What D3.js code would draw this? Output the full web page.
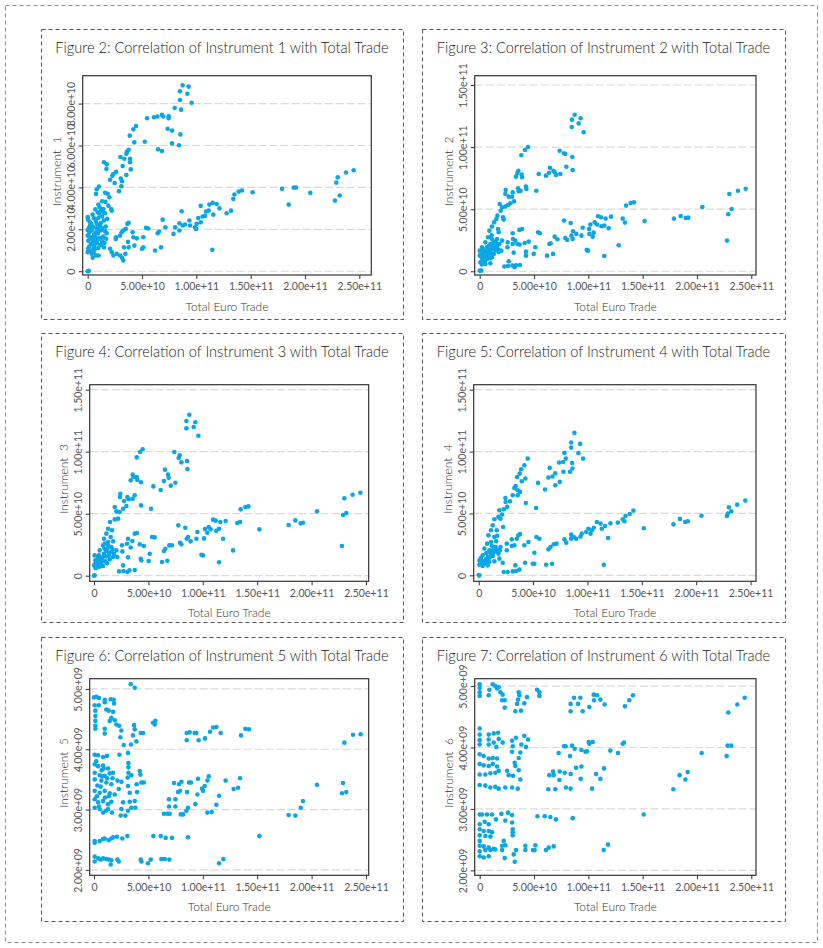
<!DOCTYPE html>
<html>
<head>
<meta charset="utf-8">
<script src="https://cdn.jsdelivr.net/npm/d3@7"></script>
<style>
  body { margin: 0; background: #fff; }
  text { font-family: Lato, "Open Sans", sans-serif; font-weight: 300; }
  .tick text { font-weight: 400; }
</style>
</head>
<body>
<svg id="chart" width="823" height="948"></svg>
<script>
// tick values shared by the panels
const xTicks = [0, 5e10, 1e11, 1.5e11, 2e11, 2.5e11];
const yTicksInst1 = [0, 2e10, 4e10, 6e10, 8e10];
const yTicksLarge = [0, 5e10, 1e11, 1.5e11];
const yTicksSmall = [2e9, 3e9, 4e9, 5e9];

const figureNumbers = [2, 3, 4, 5, 6, 7];
const instrumentNames = ["Instrument  1", "Instrument  2", "Instrument  3", "Instrument  4", "Instrument  5", "Instrument  6"];
const xTitle = "Total Euro Trade";

// points: [total euro trade (1e10), instrument value (1e10)]
const inst1 = [
  [8.74,8.87],[9.29,8.81],[8.49,8.59],[9.17,8.47],[8.49,8.17],[9.57,8.04],[8.01,7.79],[8.59,7.71],
  [5.46,7.30],[6.10,7.35],[6.41,7.38],[6.83,7.46],[6.96,7.38],[7.45,7.39],[7.45,7.30],[4.45,6.93],
  [4.20,6.77],[3.87,6.47],[4.29,6.15],[5.25,6.18],[7.36,6.80],[7.76,6.71],[8.53,6.53],[7.76,6.10],
  [8.40,6.01],[6.47,5.82],[6.84,5.74],[3.77,5.80],[3.62,5.71],[3.56,5.60],[3.01,5.45],[3.37,5.37],
  [3.90,5.36],[3.90,5.20],[3.22,5.02],[3.96,4.86],[3.56,4.59],[1.50,5.20],[1.75,5.10],[1.72,4.88],
  [2.61,4.74],[2.36,4.64],[2.27,4.56],[2.06,4.36],[3.04,4.42],[3.16,4.29],[2.48,4.21],[3.10,4.05],
  [2.88,3.82],[1.04,4.04],[0.83,3.91],[0.77,3.69],[1.60,3.74],[1.84,3.70],[2.00,3.53],[1.32,3.34],
  [1.63,3.31],[0.98,3.18],[1.90,3.13],[2.15,2.97],[2.21,2.89],[1.23,2.89],[1.44,2.97],[0.92,2.81],
  [1.60,2.77],[0.00,2.58],[0.03,2.46],[0.58,2.53],[0.98,2.54],[1.32,2.61],[1.50,2.42],[0.83,2.26],
  [1.13,2.18],[1.66,2.13],[0.21,2.18],[0.52,2.10],[0.00,1.97],[0.37,1.94],[0.77,1.86],[1.20,1.94],
  [1.60,1.91],[0.00,1.70],[0.31,1.62],[0.67,1.65],[1.04,1.57],[1.44,1.65],[1.75,1.81],[0.06,1.46],
  [0.46,1.38],[0.83,1.34],[1.23,1.27],[1.50,1.14],[0.15,1.18],[0.52,1.07],[0.98,1.11],[0.00,0.91],
  [0.37,0.83],[0.77,0.75],[0.46,0.64],[1.01,0.75],[2.06,1.07],[2.21,0.91],[2.36,0.75],[2.67,0.83],
  [0.20,2.35],[0.45,2.70],[0.70,2.95],[1.10,3.05],[0.60,1.75],[0.90,1.50],[1.30,1.45],[0.30,1.30],
  [0.60,1.20],[1.20,2.30],[1.80,2.50],[0.10,2.05],[0.40,1.55],[1.00,2.00],[0.25,0.95],[0.55,0.90],
  [0.15,1.85],[0.35,2.25],[0.55,1.45],[0.75,2.40],[0.95,1.80],[1.15,1.25],[1.35,2.05],[1.55,1.35],
  [0.05,1.10],[0.25,1.55],[0.65,1.05],[0.85,2.05],[1.05,2.75],[1.25,1.60],[1.45,2.80],[1.70,1.55],
  [2.61,1.62],[2.58,1.54],[2.98,1.70],[3.13,1.86],[3.28,1.94],[3.50,2.02],[3.65,2.26],[3.77,2.31],
  [2.98,0.75],[3.16,0.64],[3.28,0.51],[3.47,0.83],[3.34,1.14],[3.71,1.40],[3.77,1.14],[4.14,1.86],
  [4.20,1.62],[4.29,1.22],[4.51,1.57],[5.00,1.07],[5.12,1.14],[5.12,1.62],[5.37,2.07],[5.58,2.04],
  [6.20,0.99],[6.75,1.14],[6.44,1.81],[6.56,1.89],[6.90,2.46],[7.15,2.10],[7.90,1.78],[8.05,2.10],
  [8.44,1.94],[8.44,2.29],[8.65,2.86],[8.74,2.18],[8.96,2.23],[9.36,2.42],[9.42,2.18],[9.88,2.10],
  [9.97,2.02],[10.03,2.26],[10.18,2.54],[10.40,2.34],[10.40,3.12],[10.58,2.61],[10.80,2.64],[10.89,2.85],
  [11.13,2.89],[11.20,3.18],[11.50,3.26],[11.56,2.70],[11.87,3.21],[12.12,3.00],[11.47,1.02],[12.79,2.77],
  [13.19,2.89],[13.40,3.45],[13.50,3.66],[13.89,3.80],[14.20,3.85],[15.18,3.77],[17.88,3.93],[18.50,3.18],
  [18.96,3.99],[19.17,3.99],[20.49,3.74],[22.76,3.37],[23.19,3.61],[22.88,4.23],[23.01,4.48],[23.77,4.71],
  [24.48,4.82],[0.00,0.00],[0.06,0.00],[0.10,0.02]
];

const inst2 = [
  [8.74,12.61],[8.49,12.21],[9.29,12.32],[8.47,11.62],[9.11,11.91],[9.57,11.19],[4.45,10.01],[4.17,9.77],
  [3.83,9.34],[7.36,9.71],[7.76,9.50],[7.88,9.44],[8.53,9.20],[7.98,8.42],[8.56,8.16],[6.47,8.34],
  [6.38,7.94],[6.78,8.10],[6.90,7.97],[6.10,7.70],[5.43,7.83],[7.42,7.83],[7.02,7.75],[5.21,6.49],
  [3.56,8.10],[3.47,7.92],[3.34,7.62],[3.87,7.78],[3.90,7.57],[4.26,6.82],[4.29,6.63],[3.53,6.68],
  [3.59,6.44],[3.77,6.49],[3.04,6.36],[2.98,6.01],[3.16,5.63],[2.39,6.55],[2.36,6.22],[2.67,6.01],
  [1.84,5.42],[2.06,5.15],[2.36,5.21],[2.61,5.34],[2.82,5.47],[1.93,4.88],[1.63,4.48],[1.53,4.21],
  [2.15,4.35],[2.21,4.16],[1.32,3.94],[1.13,3.60],[0.89,3.27],[1.69,3.41],[1.75,3.14],[0.77,2.74],
  [1.13,2.60],[1.60,2.60],[2.06,2.47],[0.52,2.33],[0.98,2.20],[1.44,2.15],[0.21,1.93],[0.67,1.93],
  [1.13,1.80],[1.60,1.99],[1.99,1.66],[0.00,1.66],[0.37,1.53],[0.83,1.40],[1.29,1.40],[1.75,1.53],
  [0.00,1.26],[0.21,1.07],[0.67,0.99],[1.13,1.13],[0.06,0.72],[0.52,0.59],[0.98,0.64],[0.00,0.05],
  [0.15,0.05],[0.40,1.20],[0.90,1.70],[1.40,2.40],[0.30,0.90],[1.10,2.90],[0.60,1.60],[1.80,2.20],
  [0.10,1.40],[0.30,1.75],[0.50,0.85],[0.70,1.25],[0.85,2.05],[1.05,1.45],[1.25,1.95],[1.45,1.70],
  [0.20,0.55],[0.45,1.05],[0.75,1.55],[1.00,1.05],[1.20,2.25],[1.55,2.25],[1.70,1.75],[0.35,1.30],
  [2.27,0.38],[2.61,0.43],[2.67,0.80],[3.01,0.46],[3.22,0.32],[3.34,0.48],[3.71,0.51],[2.55,1.93],
  [2.58,2.33],[3.04,2.20],[3.07,2.60],[3.04,3.06],[3.28,2.47],[3.47,2.20],[3.65,3.33],[3.90,3.41],
  [3.13,1.50],[3.68,2.15],[4.14,2.28],[4.51,2.39],[4.26,1.58],[4.26,1.26],[4.97,1.40],[5.12,1.93],
  [5.37,3.14],[5.55,3.06],[6.20,1.26],[6.75,1.40],[6.41,2.20],[6.53,2.25],[6.90,2.79],[7.15,2.58],
  [7.76,4.08],[7.88,2.68],[8.05,2.52],[8.37,3.89],[8.44,2.87],[8.56,2.60],[8.59,3.22],[8.90,3.01],
  [9.36,2.87],[9.48,3.51],[9.85,1.72],[9.97,1.66],[10.06,3.41],[10.18,3.76],[10.09,3.01],[10.40,2.79],
  [10.49,3.11],[10.58,3.94],[10.80,3.76],[10.89,4.43],[11.17,4.35],[11.20,3.62],[11.47,3.68],[11.59,4.24],
  [11.47,1.23],[11.87,3.46],[12.09,4.40],[12.79,2.09],[13.16,4.24],[13.37,3.92],[13.47,5.29],[13.89,5.50],
  [14.20,5.55],[15.18,4.05],[17.88,4.24],[18.50,4.45],[18.96,4.29],[19.20,4.32],[20.49,5.18],[22.76,2.47],
  [22.88,4.59],[23.19,5.02],[22.98,6.22],[23.77,6.49],[24.48,6.65]
];

const inst3 = [
  [8.76,12.98],[8.49,12.47],[9.31,12.37],[8.49,11.88],[9.16,11.99],[9.59,11.29],[4.47,10.19],[4.23,9.97],
  [3.92,9.54],[7.38,9.97],[7.87,9.70],[7.78,9.49],[8.55,9.25],[8.03,9.14],[8.58,8.60],[6.52,8.55],
  [6.80,8.15],[6.86,7.90],[6.43,7.63],[7.48,7.50],[7.05,7.26],[5.45,7.20],[6.13,6.91],[3.55,8.15],
  [3.62,7.96],[3.37,7.69],[3.92,7.96],[3.98,7.72],[4.32,7.53],[3.74,6.48],[3.55,6.21],[3.06,6.34],
  [3.19,6.16],[2.42,6.61],[2.39,6.34],[2.76,6.02],[4.32,5.67],[5.24,5.40],[1.90,5.54],[2.05,5.19],
  [2.36,5.13],[2.67,5.40],[2.97,5.62],[2.21,4.60],[1.90,4.54],[1.47,4.33],[1.29,3.79],[1.65,3.66],
  [1.13,3.39],[1.53,3.12],[0.92,2.98],[1.29,2.72],[1.75,2.77],[0.83,2.45],[1.23,2.18],[1.59,2.31],
  [2.05,2.04],[0.52,2.04],[0.92,1.77],[1.35,1.64],[1.75,1.51],[2.14,1.51],[0.06,1.64],[0.37,1.51],
  [0.12,1.24],[0.61,1.10],[1.04,1.16],[1.44,1.32],[0.00,0.83],[0.37,0.70],[0.83,0.78],[0.06,0.03],
  [0.00,0.00],[0.40,0.95],[0.70,1.40],[1.10,2.00],[0.20,1.00],[1.00,2.60],[1.60,1.90],[0.50,1.30],
  [0.15,0.60],[0.30,1.25],[0.55,0.75],[0.80,1.20],[0.95,2.20],[1.15,1.55],[1.40,1.85],[1.70,2.10],
  [0.10,0.95],[0.45,1.65],[0.65,0.95],[0.85,1.55],[1.20,1.00],[1.30,2.45],[1.85,1.75],[0.25,0.80],
  [2.30,0.35],[2.70,0.38],[2.67,0.83],[3.06,0.30],[3.25,0.43],[3.74,0.46],[2.57,2.45],[2.60,1.96],
  [3.12,2.98],[3.03,2.58],[3.37,2.28],[3.12,1.48],[3.52,2.80],[3.74,3.39],[3.95,3.44],[4.20,2.53],
  [4.57,2.39],[4.29,1.37],[4.35,1.24],[5.12,1.77],[5.02,1.18],[5.33,3.12],[5.57,3.09],[6.25,1.10],
  [6.74,1.21],[6.43,1.99],[6.56,2.18],[6.92,2.45],[7.17,2.45],[7.75,4.06],[7.90,2.66],[8.03,2.53],
  [8.39,3.87],[8.52,2.98],[8.64,3.12],[8.88,2.77],[9.41,2.98],[9.50,3.52],[9.87,1.69],[10.02,1.64],
  [10.11,3.01],[10.20,3.76],[10.42,3.47],[10.54,3.92],[10.72,3.74],[10.94,4.52],[11.18,4.44],[11.24,3.63],
  [11.49,3.79],[11.61,4.33],[11.86,2.98],[12.10,4.41],[11.49,1.08],[12.78,2.04],[13.17,4.25],[13.42,4.33],
  [13.48,5.35],[13.91,5.54],[14.19,5.59],[15.20,3.74],[17.89,4.09],[18.51,4.46],[19.00,4.22],[19.21,4.27],
  [20.50,5.19],[22.79,2.39],[22.89,4.89],[23.19,5.05],[23.01,6.24],[23.77,6.53],[24.48,6.69]
];

const inst4 = [
  [8.80,11.51],[8.50,10.73],[9.33,10.62],[8.50,10.32],[7.88,9.89],[9.17,9.87],[8.01,9.43],[9.60,9.43],
  [7.39,9.11],[7.76,9.16],[8.59,9.08],[6.53,8.68],[8.62,8.63],[8.40,8.36],[7.79,8.36],[7.04,8.25],
  [6.78,7.98],[6.41,7.90],[7.45,7.55],[7.05,7.28],[6.10,6.93],[5.46,7.47],[5.28,5.44],[4.33,5.85],
  [4.51,9.43],[4.20,8.89],[3.90,8.57],[3.77,8.22],[3.53,7.95],[3.96,7.60],[4.29,7.82],[3.28,7.06],
  [3.59,6.87],[3.80,6.74],[3.40,7.22],[3.59,6.47],[3.13,6.47],[2.88,5.98],[2.45,6.25],[2.48,5.93],
  [2.61,5.53],[2.30,5.34],[1.90,5.26],[2.15,4.91],[1.81,4.72],[1.44,4.53],[2.00,4.58],[2.25,3.91],
  [1.29,4.04],[1.13,3.64],[1.66,3.64],[0.89,3.23],[1.44,3.10],[0.77,2.56],[1.13,2.70],[1.60,2.75],
  [2.00,2.29],[0.52,2.16],[0.98,2.02],[1.44,2.16],[1.81,1.75],[0.37,1.62],[0.83,1.48],[1.29,1.56],
  [1.90,1.35],[0.06,1.21],[0.52,1.13],[0.98,1.08],[1.44,1.13],[0.06,0.86],[0.37,0.75],[0.83,0.81],
  [0.06,0.00],[0.00,0.02],[2.21,1.02],[0.30,1.00],[0.65,1.30],[1.05,1.85],[1.20,2.40],[0.20,1.40],
  [1.60,1.95],[0.70,1.80],[0.15,0.95],[0.45,0.90],[0.60,1.05],[0.90,1.25],[1.10,1.55],[1.35,1.80],
  [1.55,2.30],[1.75,2.05],[0.25,1.15],[0.75,1.20],[1.00,1.45],[1.25,2.00],[1.70,3.20],[1.95,2.00],
  [2.30,0.27],[2.67,0.27],[3.13,0.32],[3.44,0.35],[3.74,0.46],[3.37,0.81],
  [2.58,2.56],[2.58,2.02],[3.04,2.91],[3.04,2.37],[3.28,2.43],[3.50,2.96],[3.65,3.23],[3.80,3.34],
  [4.20,2.43],[4.57,2.70],[4.26,1.02],[4.97,0.94],[5.12,0.94],[5.12,1.83],[5.31,3.10],[5.58,2.96],
  [6.20,0.86],[6.75,0.94],[6.41,2.10],[6.60,2.29],[6.90,2.51],[7.15,2.56],[7.88,2.91],[8.05,2.64],
  [8.50,3.29],[8.50,2.96],[8.74,3.10],[8.96,2.96],[9.36,3.13],[9.48,3.37],[9.88,3.50],[10.09,3.77],
  [10.28,3.37],[10.40,3.64],[10.58,3.85],[10.86,4.31],[11.20,4.18],[11.32,3.77],[11.62,3.99],[11.50,0.86],
  [11.90,3.02],[12.12,4.20],[12.79,4.26],[13.25,4.53],[13.40,4.37],[13.50,4.80],[13.89,4.96],[14.23,5.23],
  [15.18,3.80],[17.91,4.12],[18.50,4.56],[18.99,4.31],[19.23,4.37],[20.49,4.82],[22.82,4.80],[22.91,4.99],
  [23.01,5.50],[23.22,5.18],[23.77,5.71],[24.51,6.04]
];

// points: [total euro trade (1e10), instrument value (1e9)]
const inst5 = [
  [3.37,5.08],[3.74,5.02],[0.00,4.86],[0.21,4.87],[0.46,4.85],[0.98,4.82],[1.53,4.83],[1.81,4.82],
  [0.06,4.73],[0.43,4.73],[0.98,4.78],[1.84,4.76],[1.13,4.66],[1.35,4.64],[1.75,4.62],[0.12,4.64],
  [0.12,4.55],[0.12,4.47],[0.12,4.39],[0.12,4.34],[1.59,4.52],[1.44,4.47],[1.90,4.48],[2.05,4.41],
  [2.30,4.39],[0.98,4.34],[0.98,4.26],[2.51,4.31],[2.42,4.20],[2.73,4.07],[3.68,4.40],[3.74,4.33],
  [4.29,4.27],[4.51,4.27],[3.58,4.23],[3.40,4.08],[3.89,4.13],[5.42,4.44],[5.64,4.47],[5.58,4.41],
  [8.52,4.27],[8.79,4.28],[9.25,4.27],[9.41,4.27],[8.52,4.15],[9.62,4.15],[10.20,4.18],[10.66,4.29],
  [10.94,4.36],[11.25,4.37],[11.64,4.27],[13.51,4.23],[13.91,4.34],[14.24,4.33],[23.01,4.11],[23.81,4.24],
  [24.51,4.25],
  [0.06,3.91],[0.37,3.90],[0.83,3.87],[1.19,3.89],[2.33,3.91],[3.12,3.94],[0.06,3.75],[0.37,3.72],
  [0.83,3.73],[1.29,3.68],[1.75,3.61],[0.06,3.61],[0.52,3.57],[0.98,3.56],[1.44,3.60],[0.06,3.50],
  [0.67,3.48],[1.13,3.45],[1.59,3.42],[2.15,3.48],[2.51,3.46],[3.16,3.77],[3.16,3.70],[3.16,3.61],
  [3.09,3.53],[3.43,3.57],[4.20,3.64],[4.26,3.58],[3.92,3.42],[4.35,3.45],[4.57,3.45],[0.06,3.31],
  [0.52,3.28],[0.98,3.31],[1.44,3.27],[2.27,3.34],[3.12,3.39],[3.28,3.28],[3.95,3.29],[0.06,3.17],
  [0.37,3.12],[0.83,3.14],[1.29,3.09],[1.59,3.13],[2.67,3.12],[3.28,3.13],[3.74,3.14],[0.06,3.03],
  [0.52,3.01],[0.83,2.95],[1.29,3.01],[1.65,2.95],[2.51,3.01],[2.45,2.90],[2.88,2.90],[3.12,2.98],
  [3.43,3.03],[3.80,3.03],[0.30,3.40],[0.70,3.65],[1.00,3.20],[1.90,3.25],[0.45,3.05],[1.20,3.52],
  [0.20,3.80],[0.60,3.38],[0.90,3.68],[1.35,3.22],[1.70,3.52],[0.25,3.22],[1.10,2.98],[0.75,3.55],
  [6.43,2.93],[6.74,2.93],[6.95,2.93],[6.89,3.17],[6.89,3.05],[7.48,3.17],[7.48,3.05],[7.35,3.44],
  [7.81,3.42],[7.72,3.29],[8.03,3.46],[7.90,3.31],[7.97,2.92],[8.19,2.92],[8.49,2.98],[8.64,3.03],
  [8.55,3.29],[8.73,3.45],[8.91,3.45],[9.31,3.09],[9.50,3.25],[9.56,3.51],[9.93,3.35],[10.02,3.31],
  [10.17,3.39],[10.42,3.48],[10.54,3.55],[10.42,2.95],[10.82,2.96],[11.24,3.08],[11.49,3.23],[12.10,3.48],
  [12.83,3.34],[13.24,3.36],[13.42,3.52],[17.89,2.91],[18.51,2.90],[19.00,3.03],[19.21,3.14],[20.50,3.41],
  [22.79,3.27],[22.89,3.44],[23.19,3.29],
  [0.06,2.48],[0.06,2.45],[0.52,2.48],[0.83,2.51],[0.98,2.52],[1.35,2.49],[1.59,2.52],[1.75,2.54],
  [2.11,2.55],[2.60,2.52],[3.06,2.56],[5.45,2.56],[6.13,2.56],[6.58,2.53],[7.17,2.53],[8.64,2.54],
  [15.20,2.56],[0.06,2.22],[0.06,2.14],[0.37,2.19],[0.61,2.17],[0.83,2.19],[1.13,2.18],[1.35,2.17],
  [1.53,2.09],[1.59,2.16],[2.14,2.17],[2.27,2.14],[4.29,2.17],[4.35,2.14],[4.96,2.11],[5.21,2.17],
  [6.19,2.18],[6.50,2.18],[6.92,2.17],[11.49,2.11],[11.89,2.18]
];

const inst6 = [
  [0.00,5.03],[0.00,4.97],[0.00,4.90],[0.00,4.84],[0.89,4.94],[0.83,4.85],[1.20,5.03],[1.44,5.00],
  [1.60,4.96],[1.75,4.98],[1.90,4.90],[2.11,4.86],[2.06,4.77],[2.30,4.77],[2.30,4.65],[3.59,4.90],
  [3.65,4.85],[3.53,4.78],[3.44,4.71],[4.11,4.72],[4.35,4.82],[3.28,4.59],[3.80,4.60],[5.28,4.94],
  [5.49,4.90],[5.49,4.84],[8.37,4.71],[8.37,4.59],[8.68,4.81],[9.05,4.71],[9.26,4.81],[9.48,4.59],
  [10.09,4.66],[10.49,4.86],[10.80,4.85],[10.52,4.77],[11.10,4.78],[11.50,4.70],[13.37,4.67],[13.77,4.77],
  [14.11,4.85],[22.88,4.57],[23.71,4.70],[24.39,4.81],
  [0.00,4.31],[0.00,4.21],[0.00,4.12],[0.00,4.05],[0.83,4.21],[0.83,4.13],[0.83,4.05],[1.29,4.23],
  [1.29,4.08],[1.69,4.24],[1.75,4.14],[1.53,4.01],[2.11,4.08],[2.98,4.11],[3.04,4.02],[2.98,3.93],
  [3.34,4.16],[3.83,4.05],[4.11,4.19],[4.26,4.01],[4.45,4.13],[3.74,3.92],[3.59,3.83],[3.22,3.75],
  [0.00,3.89],[0.37,3.86],[0.83,3.82],[1.20,3.83],[1.60,3.82],[0.00,3.73],[0.37,3.71],[0.83,3.70],
  [1.20,3.73],[1.60,3.69],[0.00,3.56],[0.52,3.56],[0.98,3.58],[1.44,3.59],[1.75,3.62],[2.52,3.62],
  [2.67,3.55],[3.07,3.54],[3.59,3.63],[3.74,3.48],[3.28,3.70],[0.00,3.39],[0.52,3.38],[0.98,3.35],
  [1.44,3.36],[1.75,3.33],[2.36,3.35],[2.98,3.35],[3.50,3.33],[6.32,3.32],[6.96,3.32],[6.41,3.55],
  [6.75,3.61],[6.81,3.55],[7.36,3.61],[7.33,3.47],[7.82,3.59],[7.94,3.35],[8.37,3.33],[8.37,3.57],
  [8.87,3.67],[9.36,3.69],[9.30,3.49],[7.27,3.91],[7.76,4.02],[7.91,4.02],[8.31,3.86],[8.50,4.03],
  [8.74,3.98],[9.36,3.96],[9.73,3.93],[9.88,3.94],[10.03,4.09],[10.09,4.06],[10.40,4.09],[10.34,3.33],
  [10.71,3.57],[11.10,3.49],[11.44,3.66],[12.02,3.95],[12.73,3.91],[13.16,4.06],[13.28,4.08],[17.82,3.32],
  [18.40,3.55],[18.93,3.48],[19.14,3.60],[20.43,3.91],[22.73,3.86],[22.82,4.03],[23.16,4.03],
  [0.00,2.91],[0.21,2.91],[0.67,2.91],[1.13,2.91],[1.99,2.92],[2.61,2.94],[2.98,2.90],[1.50,2.83],
  [2.36,2.81],[2.98,2.78],[0.46,2.79],[0.00,2.75],[0.83,2.75],[0.00,2.67],[0.37,2.64],[0.83,2.64],
  [1.13,2.62],[3.04,2.67],[3.04,2.62],[3.04,2.57],[0.00,2.57],[0.52,2.56],[0.98,2.55],[0.00,2.48],
  [2.21,2.48],[0.00,2.40],[0.37,2.39],[0.83,2.37],[1.29,2.35],[2.06,2.40],[2.36,2.41],[0.00,2.31],
  [0.52,2.33],[0.98,2.33],[1.44,2.34],[2.06,2.33],[0.00,2.23],[0.37,2.21],[0.83,2.23],[2.30,2.20],
  [3.13,2.26],[3.34,2.33],[3.22,2.14],[4.20,2.40],[4.20,2.33],[4.91,2.33],[5.12,2.41],[5.06,2.33],
  [6.10,2.33],[6.35,2.37],[6.81,2.39],[5.31,2.88],[5.98,2.88],[6.50,2.87],[7.02,2.83],[8.56,2.85],
  [15.09,2.91],[11.41,2.33],[11.81,2.42]
];

const seriesList = [inst1, inst2, inst3, inst4, inst5, inst6];
const yUnits = [1e10, 1e10, 1e10, 1e10, 1e9, 1e9];
const yTickSets = [yTicksInst1, yTicksLarge, yTicksLarge, yTicksLarge, yTicksSmall, yTicksSmall];

// layout: dashed box of each panel and the plot frame inside it (page pixels)
const boxes = [
  [41, 29, 403, 319], [422, 29, 785, 319],
  [41, 333, 403, 622], [422, 333, 785, 622],
  [41, 637, 403, 921], [422, 637, 785, 921]
];
const frames = [
  [82.7, 75.7, 371.3, 275], [474.7, 75.7, 756, 275],
  [89.7, 384.7, 368.7, 581.3], [473.7, 384.7, 756, 581.3],
  [89.7, 678.7, 368.7, 875.3], [474.7, 678.7, 756, 875.3]
];
const xDomains = [[-0.46e10, 26.1e10], [-0.46e10, 25.43e10], [-0.4e10, 25.25e10],
                  [-0.46e10, 25.5e10], [-0.4e10, 25.25e10], [-0.46e10, 25.43e10]];
const yDomains = [[-0.18e10, 9.33e10], [-0.3e10, 15.75e10], [-0.45e10, 15.4e10],
                  [-0.48e10, 15.4e10], [1.91e9, 5.17e9], [1.92e9, 5.12e9]];

const dotColor = "#0aa6e6";

function sci(v) {
  if (v === 0) return "0";
  let parts = d3.format(".2e")(v).split("e");
  let exp = parts[1];
  return parts[0] + "e" + exp[0] + exp.slice(1).padStart(2, "0");
}

let svg = d3.select("#chart");

// outer dashed border
svg.append("rect")
  .attr("x", 5.5).attr("y", 5.5)
  .attr("width", 812).attr("height", 937)
  .attr("fill", "none")
  .attr("stroke", "#8a8a8a")
  .attr("stroke-dasharray", "4,3");

seriesList.forEach(function(series, i) {
  let box = boxes[i];
  let fr = frames[i];

  let g = svg.append("g");

  g.append("rect")
    .attr("x", box[0] + 0.5).attr("y", box[1] + 0.5)
    .attr("width", box[2] - box[0]).attr("height", box[3] - box[1])
    .attr("fill", "none")
    .attr("stroke", "#555")
    .attr("stroke-dasharray", "4,3");

  g.append("text")
    .attr("x", (box[0] + box[2]) / 2)
    .attr("y", box[1] + 24)
    .attr("text-anchor", "middle")
    .attr("font-size", 14.6)
    .attr("fill", "#222")
    .text("Figure " + figureNumbers[i] + ": Correlation of Instrument " + (i + 1) + " with Total Trade");

  let x = d3.scaleLinear().domain(xDomains[i]).range([fr[0], fr[2]]);
  let y = d3.scaleLinear().domain(yDomains[i]).range([fr[3], fr[1]]);

  // grid
  g.selectAll(".grid")
    .data(yTickSets[i])
    .enter().append("line")
    .attr("x1", fr[0]).attr("x2", fr[2])
    .attr("y1", d => y(d)).attr("y2", d => y(d))
    .attr("stroke", "#d9d9d9")
    .attr("stroke-width", 1.2)
    .attr("stroke-dasharray", "8,3");

  // points
  g.selectAll("circle")
    .data(series)
    .enter().append("circle")
    .attr("cx", d => x(d[0] * 1e10))
    .attr("cy", d => y(d[1] * yUnits[i]))
    .attr("r", 2.3)
    .attr("fill", dotColor);

  // frame
  g.append("rect")
    .attr("x", fr[0]).attr("y", fr[1])
    .attr("width", fr[2] - fr[0]).attr("height", fr[3] - fr[1])
    .attr("fill", "none")
    .attr("stroke", "#333")
    .attr("stroke-width", 1.2);

  let xAxis = g.append("g")
    .attr("transform", "translate(0," + fr[3] + ")")
    .call(d3.axisBottom(x).tickValues(xTicks).tickFormat(sci).tickSize(4).tickSizeOuter(0));
  xAxis.select(".domain").remove();
  xAxis.selectAll("line").attr("stroke", "#333");
  xAxis.selectAll("text")
    .attr("font-family", "Lato, sans-serif")
    .attr("font-size", 10.5)
    .attr("fill", "#555")
    .attr("y", 8);

  let yAxis = g.append("g")
    .attr("transform", "translate(" + fr[0] + ",0)")
    .call(d3.axisLeft(y).tickValues(yTickSets[i]).tickFormat(sci).tickSize(4).tickSizeOuter(0));
  yAxis.select(".domain").remove();
  yAxis.selectAll("line").attr("stroke", "#333");
  yAxis.selectAll("text")
    .attr("font-family", "Lato, sans-serif")
    .attr("font-size", 10.5)
    .attr("fill", "#555")
    .attr("x", null).attr("dy", null)
    .attr("text-anchor", "middle")
    .attr("transform", "translate(-8,0) rotate(-90)");

  g.append("text")
    .attr("x", (fr[0] + fr[2]) / 2)
    .attr("y", fr[3] + 36)
    .attr("text-anchor", "middle")
    .attr("font-size", 12)
    .attr("fill", "#333")
    .text(xTitle);

  g.append("text")
    .attr("transform", "translate(" + (fr[0] - 22) + "," + ((fr[1] + fr[3]) / 2 - 4) + ") rotate(-90)")
    .attr("text-anchor", "middle")
    .attr("font-size", 12)
    .attr("fill", "#333")
    .style("white-space", "pre")
    .text(instrumentNames[i]);
});
</script>
</body>
</html>
